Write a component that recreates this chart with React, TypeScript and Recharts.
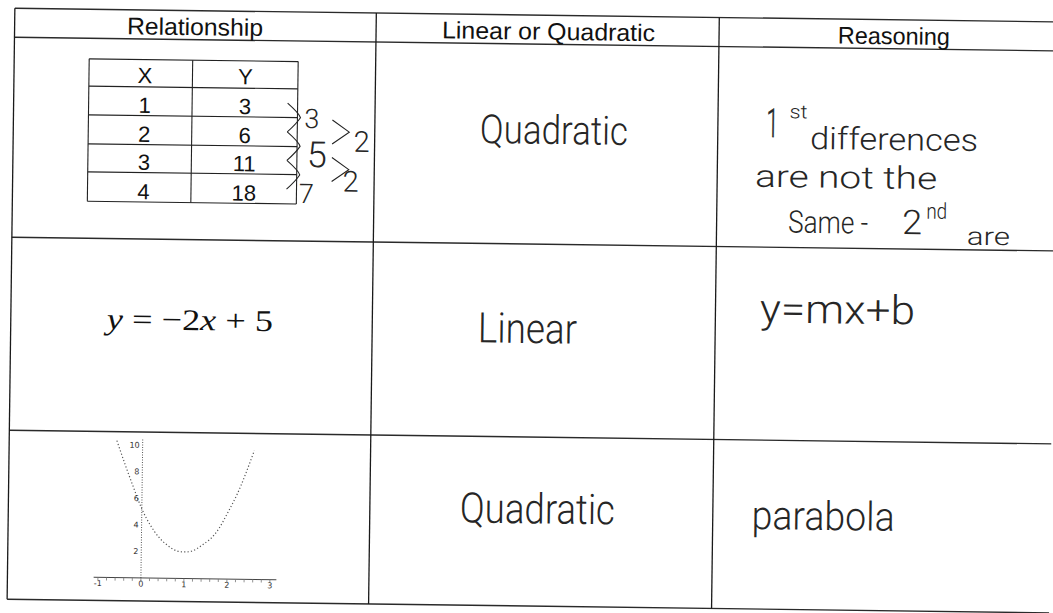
import React from 'react';
import { LineChart, Line, XAxis, YAxis, ReferenceLine, ReferenceDot } from 'recharts';

// ---- data ----
const headers = ['Relationship', 'Linear or Quadratic', 'Reasoning'];
const tableHead = ['X', 'Y'];
const tableX = [1, 2, 3, 4];
const tableY = [3, 6, 11, 18];
const firstDiffs = [3, 5, 7];
const secondDiffs = [2, 2];
const answers = ['Quadratic', 'Linear', 'Quadratic'];
const curveX = [-0.6, -0.4, -0.2, 0, 0.2, 0.4, 0.6, 0.8, 1.0, 1.2, 1.4, 1.6, 1.8, 2.0, 2.2, 2.4, 2.6];
const curveY = [10.3, 8.5, 6.8, 5.2, 4.0, 3.1, 2.5, 2.1, 2.0, 2.1, 2.5, 3.0, 3.8, 5.0, 6.3, 7.9, 9.7];
const xTicks = [-1, -0.8, -0.6, -0.4, -0.2, 0, 0.2, 0.4, 0.6, 0.8, 1, 1.2, 1.4, 1.6, 1.8, 2, 2.2, 2.4, 2.6, 2.8, 3];
const yTicks = [2, 4, 6, 8, 10];

const curveData = curveX.map((x, i) => ({ x, y: curveY[i] }));

// ---- layout ----
const ROWS = [15, 44, 244, 437, 606];
const COLS = [11, 372.5, 715.5, 1070];
const INNER_ROWS = [64.6, 91.9, 120.6, 149.6, 177.6, 207];
const INNER_COLS = [86, 189.5, 295];

const HAND = "Roboto, 'Open Sans', Lato, sans-serif";
const SANS = "'Liberation Sans', Arial, sans-serif";
const SERIF = "'Liberation Serif', 'Times New Roman', serif";
const INK = '#262626';

const H = ({ x, y, w, size, children, anchor }: any) => (
  <text
    x={x}
    y={y}
    fontFamily={HAND}
    fontWeight={300}
    fontSize={size}
    fill={INK}
    textAnchor={anchor || 'start'}
    {...(w ? { textLength: w, lengthAdjust: 'spacingAndGlyphs' } : {})}
  >
    {children}
  </text>
);

const headerPos = [
  { cx: 191.4, w: 136 },
  { cx: 545, w: 213 },
  { cx: 890.4, w: 112 },
];

const answerPos = [
  { x: 477.7, y: 143.6, w: 148, size: 40 },
  { x: 478.3, y: 343, w: 99, size: 42 },
  { x: 462.6, y: 523.2, w: 155, size: 42 },
];

const diffPos = [
  { x: 309.5, y: 131, size: 27 },
  { x: 315, y: 170, size: 36 },
  { x: 305, y: 206, size: 27 },
];
const diff2Pos = [
  { x: 359.5, y: 154, size: 29 },
  { x: 349, y: 194, size: 29 },
];

export default function App() {
  const rc = [0, 1, 2, 3].map((i) => (INNER_ROWS[i + 1] + INNER_ROWS[i + 2]) / 2);
  return (
    <div style={{ position: 'absolute', left: 0, top: 0, width: 1053, height: 613, overflow: 'hidden', background: '#fff' }}>
      <div
        style={{
          position: 'absolute',
          left: 0,
          top: 0,
          width: 1053,
          height: 613,
          transform: 'rotate(0.75deg)',
          transformOrigin: '526.5px 306.5px',
        }}
      >
        <svg width={1053} height={613} style={{ position: 'absolute', left: 0, top: 0 }}>
          {/* outer grid */}
          {ROWS.map((y, i) => (
            <line key={'r' + i} x1={COLS[0]} x2={COLS[3]} y1={y} y2={y} stroke="#2a2a2a" strokeWidth={1.4} />
          ))}
          {COLS.map((x, i) => (
            <line key={'c' + i} x1={x} x2={x} y1={ROWS[0]} y2={ROWS[4]} stroke="#1a1a1a" strokeWidth={1.3} />
          ))}
          {/* headers */}
          {headers.map((h, i) => (
            <text
              key={'h' + i}
              x={headerPos[i].cx - headerPos[i].w / 2}
              y={39.5}
              fontFamily={SANS}
              fontSize={24}
              fill="#111"
              textLength={headerPos[i].w}
              lengthAdjust="spacingAndGlyphs"
            >
              {h}
            </text>
          ))}

          {/* inner table */}
          {INNER_ROWS.map((y, i) => (
            <line key={'ir' + i} x1={INNER_COLS[0]} x2={INNER_COLS[2]} y1={y} y2={y} stroke="#222" strokeWidth={1.1} />
          ))}
          {INNER_COLS.map((x, i) => (
            <line key={'ic' + i} x1={x} x2={x} y1={INNER_ROWS[0]} y2={INNER_ROWS[5]} stroke="#222" strokeWidth={1.1} />
          ))}
          {tableHead.map((t, i) => (
            <text key={'th' + i} x={i === 0 ? 142 : 242.4} y={88} fontFamily={SANS} fontSize={22} fill="#111" textAnchor="middle">
              {t}
            </text>
          ))}
          {tableX.map((v, i) => (
            <text key={'tx' + i} x={142} y={INNER_ROWS[i + 2] - 2.7} fontFamily={SANS} fontSize={22} fill="#111" textAnchor="middle">
              {v}
            </text>
          ))}
          {tableY.map((v, i) => (
            <text key={'ty' + i} x={242.4} y={INNER_ROWS[i + 2] - 2.7} fontFamily={SANS} fontSize={22} fill="#111" textAnchor="middle">
              {v}
            </text>
          ))}
          {/* first differences */}
          {firstDiffs.map((d, i) => (
            <g key={'fd' + i}>
              <path
                d={`M285 ${rc[i]} Q297 ${(rc[i] + rc[i + 1]) / 2 - 4} 298 ${(rc[i] + rc[i + 1]) / 2} Q294 ${(rc[i] + rc[i + 1]) / 2 + 6} 285 ${rc[i + 1]}`}
                fill="none"
                stroke="#222"
                strokeWidth={1.1}
              />
              <H x={diffPos[i].x} y={diffPos[i].y} size={diffPos[i].size} anchor="middle">
                {d}
              </H>
            </g>
          ))}
          {/* second differences */}
          {secondDiffs.map((d, i) => {
            const top = (diffPos[i].y + diffPos[i + 1].y) / 2 - 28;
            return (
              <g key={'sd' + i}>
                <path
                  d={`M330 ${top} L347 ${top + 12} L330 ${top + 24}`}
                  fill="none"
                  stroke="#222"
                  strokeWidth={1.1}
                />
                <H x={diff2Pos[i].x} y={diff2Pos[i].y} size={diff2Pos[i].size} anchor="middle">
                  {d}
                </H>
              </g>
            );
          })}

          {/* equation */}
          <text x={107.2} y={334.4} fontFamily={SERIF} fontSize={30} fill="#111" textLength={166} lengthAdjust="spacingAndGlyphs">
            <tspan fontStyle="italic">y</tspan>
            <tspan>{' = \u22122'}</tspan>
            <tspan fontStyle="italic">x</tspan>
            <tspan>{' + 5'}</tspan>
          </text>

          {/* answers */}
          {answers.map((a, i) => (
            <H key={'a' + i} x={answerPos[i].x} y={answerPos[i].y} w={answerPos[i].w} size={answerPos[i].size}>
              {a}
            </H>
          ))}

          {/* reasoning row 1 */}
          <text
            x={764}
            y={133.8}
            fontFamily={HAND}
            fontWeight={300}
            fill={INK}
            stroke={INK}
            strokeWidth={0.6}
            fontSize={40}
            textLength={12}
            lengthAdjust="spacingAndGlyphs"
          >
            1
          </text>
          <text x={787} y={114.8} fontFamily={HAND} fontWeight={300} fill={INK} fontSize={19} textLength={18} lengthAdjust="spacingAndGlyphs">
            st
          </text>
          <H x={807.8} y={145.2} w={168} size={31}>differences</H>
          <H x={753.4} y={183.8} w={182} size={31}>are not the</H>
          <text fontFamily={HAND} fontWeight={300} fill={INK}>
            <tspan x={787} y={229.2} fontSize={31} textLength={80} lengthAdjust="spacingAndGlyphs">Same -</tspan>
            <tspan x={901} y={229} fontSize={34} textLength={20} lengthAdjust="spacingAndGlyphs">2</tspan>
            <tspan x={925} y={213.5} fontSize={22} textLength={21} lengthAdjust="spacingAndGlyphs">nd</tspan>
            <tspan x={966} y={239} fontSize={25} textLength={43} lengthAdjust="spacingAndGlyphs">are</tspan>
          </text>
          {/* reasoning row 2 */}
          <H x={760} y={319.3} w={155} size={40}>y=mx+b</H>
          {/* reasoning row 3 */}
          <H x={754.4} y={526} w={143} size={40}>parabola</H>
        </svg>

        {/* parabola chart */}
        <div style={{ position: 'absolute', left: 60, top: 430 }}>
          <LineChart
            width={240}
            height={180}
            data={curveData}
            margin={{ top: 13.35, right: 20.05, bottom: 13, left: 37.2 }}
          >
            <XAxis
              dataKey="x"
              type="number"
              domain={[-1.1, 3.15]}
              ticks={xTicks}
              interval={0}
              allowDataOverflow
              tickFormatter={(v: number) => (Number.isInteger(v) ? String(v) : '')}
              height={14}
              tickSize={3}
              tickMargin={0}
              axisLine={{ stroke: '#444', strokeWidth: 1 }}
              tickLine={{ stroke: '#777', strokeWidth: 0.8 }}
              tick={{ fontSize: 8, fill: '#333', fontFamily: 'DejaVu Sans' }}
            />
            <YAxis type="number" domain={[0, 10.5]} hide allowDataOverflow />
            <ReferenceLine x={0} stroke="#555" strokeWidth={1} strokeDasharray="1 1.5" />
            {yTicks.map((v) => (
              <ReferenceDot
                key={'yt' + v}
                x={0}
                y={v}
                r={0}
                fill="none"
                stroke="none"
                label={{ value: String(v), position: 'left', offset: 3, fontSize: 8, fill: '#333', fontFamily: 'DejaVu Sans' }}
              />
            ))}
            <Line
              dataKey="y"
              type="natural"
              stroke="#555"
              strokeWidth={1.2}
              strokeDasharray="1.2 2.2"
              dot={false}
              isAnimationActive={false}
            />
          </LineChart>
        </div>
      </div>
    </div>
  );
}
